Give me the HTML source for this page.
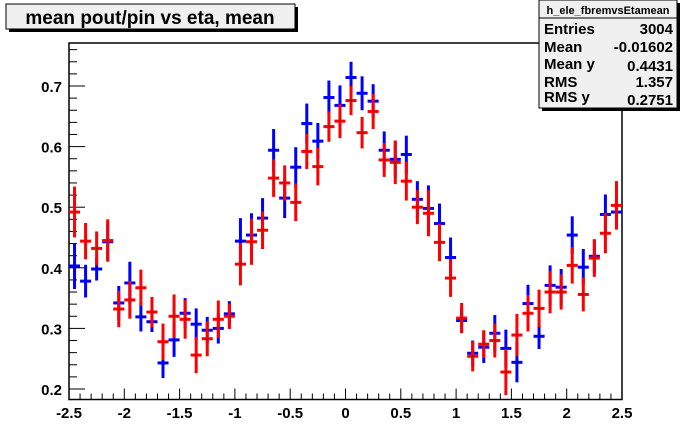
<!DOCTYPE html>
<html><head><meta charset="utf-8"><style>
html,body{margin:0;padding:0;background:#fff;}
svg{display:block;font-family:"Liberation Sans",Arial,sans-serif;}
</style></head><body>
<svg id="chart" width="692" height="444" viewBox="0 0 692 444">
<g id="frame-g"></g>
<g id="marks"></g>
<g>
<rect x="9" y="7" width="289" height="25" fill="#000"/>
<rect x="6" y="4" width="289" height="25" fill="#f0f0f0" stroke="#000" stroke-width="1"/>
<text x="150" y="24" text-anchor="middle" font-size="19" font-weight="bold">mean pout/pin vs eta, mean</text>
</g>
<g>
<rect x="542" y="3" width="138" height="108" fill="#000"/>
<rect x="539" y="0" width="138" height="108" fill="#f0f0f0" stroke="#000" stroke-width="1"/>
<line x1="539" y1="18" x2="677" y2="18" stroke="#000"/>
<text x="608" y="14" text-anchor="middle" font-size="11" font-weight="bold">h_ele_fbremvsEtamean</text>
<g font-size="15" font-weight="bold">
<text x="544" y="34">Entries</text><text x="673" y="34" text-anchor="end">3004</text>
<text x="544" y="52">Mean</text><text x="673" y="52" text-anchor="end">-0.01602</text>
<text x="544" y="69">Mean y</text><text x="673" y="71" text-anchor="end">0.4431</text>
<text x="544" y="87">RMS</text><text x="673" y="87" text-anchor="end">1.357</text>
<text x="544" y="102">RMS y</text><text x="673" y="105" text-anchor="end">0.2751</text>
</g>
</g>
</svg>
<script>
const xTickLabels = ["-2.5","-2","-1.5","-1","-0.5","0","0.5","1","1.5","2","2.5"];
const yTickLabels = ["0.2","0.3","0.4","0.5","0.6","0.7"];
const blueVals = [0.403,0.378,0.398,0.443,0.342,0.375,0.319,0.311,0.243,0.281,0.325,0.307,0.297,0.300,0.324,0.444,0.454,0.482,0.594,0.515,0.566,0.638,0.609,0.681,0.668,0.714,0.688,0.675,0.594,0.579,0.587,0.513,0.498,0.473,0.417,0.313,0.259,0.269,0.292,0.267,0.244,0.341,0.287,0.371,0.368,0.454,0.401,0.419,0.488,0.492];
const blueErrs = [0.038,0.027,0.019,0.030,0.028,0.035,0.024,0.017,0.025,0.028,0.025,0.026,0.022,0.025,0.021,0.038,0.036,0.033,0.035,0.033,0.033,0.033,0.030,0.028,0.033,0.026,0.028,0.028,0.031,0.030,0.031,0.030,0.038,0.033,0.033,0.020,0.021,0.026,0.030,0.031,0.033,0.031,0.021,0.033,0.030,0.031,0.030,0.028,0.033,0.026];
const redVals = [0.492,0.444,0.432,0.445,0.332,0.347,0.367,0.327,0.278,0.320,0.315,0.256,0.283,0.315,0.320,0.406,0.443,0.462,0.548,0.540,0.508,0.592,0.567,0.633,0.642,0.676,0.623,0.658,0.578,0.574,0.543,0.500,0.490,0.442,0.383,0.317,0.254,0.274,0.280,0.228,0.289,0.325,0.333,0.360,0.360,0.404,0.356,0.416,0.457,0.503];
const redErrs = [0.042,0.030,0.028,0.035,0.030,0.031,0.030,0.025,0.030,0.036,0.032,0.030,0.029,0.031,0.021,0.035,0.038,0.031,0.031,0.029,0.031,0.029,0.031,0.025,0.028,0.024,0.026,0.029,0.028,0.036,0.032,0.028,0.038,0.031,0.031,0.025,0.025,0.023,0.028,0.038,0.035,0.030,0.031,0.035,0.029,0.030,0.028,0.031,0.033,0.040];
const NS="http://www.w3.org/2000/svg";
const X0=69,X1=622,Y0=43,Y1=399.5;
function xs(v){return X0+(v+2.5)/5*(X1-X0);}
function ys(v){return 389-(v-0.2)*606;}
function mk(parent,tag,attrs){const e=document.createElementNS(NS,tag);for(const k in attrs)e.setAttribute(k,attrs[k]);parent.appendChild(e);return e;}
const fg=document.getElementById('frame-g');
const fr=mk(fg,'rect',{x:X0,y:Y0,width:X1-X0,height:Y1-Y0,fill:'none',stroke:'#000','stroke-width':1.5});


// x ticks
for(let i=0;i<=50;i++){const v=-2.5+i*0.1;const x=xs(v);const major=i%5===0;
 const t=mk(fg,'line',{x1:x,y1:Y1,x2:x,y2:Y1-(major?11:6),stroke:'#000','stroke-width':1});
 
 }
xTickLabels.forEach((l,i)=>{const t=mk(fg,'text',{x:xs(parseFloat(l)),y:418,'text-anchor':'middle','font-size':15,'font-weight':'bold'});t.textContent=l;
 
 });
// y ticks
for(let i=0;;i++){const v=0.18+i*0.02;const y=ys(v);if(y<Y0)break;if(y>Y1)continue;const major=Math.abs(((v*100)%10))<0.01||Math.abs(((v*100)%10)-10)<0.01;
 const t=mk(fg,'line',{x1:X0,y1:y,x2:X0+(major?16:8),y2:y,stroke:'#000','stroke-width':1});
 
 }
yTickLabels.forEach(l=>{const t=mk(fg,'text',{x:62,y:ys(parseFloat(l))+6,'text-anchor':'end','font-size':15,'font-weight':'bold'});t.textContent=l;
 
 });
const mg=document.getElementById('marks');
function series(vals,errs,color,name){
 const g=mk(mg,'g',{});
 
 
 vals.forEach((v,i)=>{const cx=xs(-2.45+i*0.1);const w=(X1-X0)/50;
  const p=mk(g,'g',{});
  
  
  mk(p,'line',{x1:cx,y1:ys(v-errs[i]),x2:cx,y2:ys(v+errs[i]),stroke:color,'stroke-width':3});
  mk(p,'line',{x1:cx-w/2,y1:ys(v),x2:cx+w/2,y2:ys(v),stroke:color,'stroke-width':3});
  mk(p,'rect',{x:cx-0.5,y:ys(v)-0.5,width:1,height:1,fill:'#000'});
 });
}
series(blueVals,blueErrs,'#0000ff','blue-series');
series(redVals,redErrs,'#ff0000','red-series');
</script>
</body></html>
